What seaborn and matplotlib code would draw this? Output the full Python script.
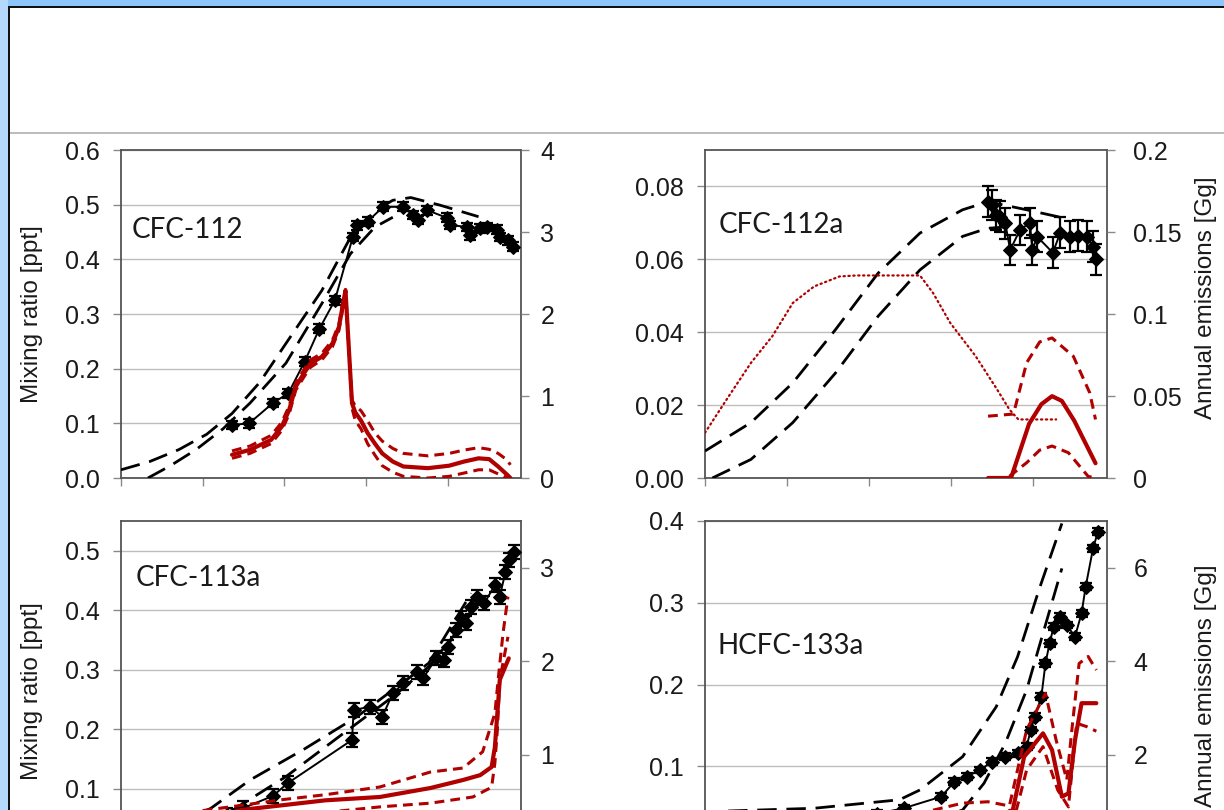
import matplotlib
matplotlib.use("Agg")
import matplotlib.pyplot as plt
import seaborn as sns
from matplotlib.patches import Rectangle

# ---------------- CFC-112 (top left) ----------------
c112_obs_year = [1978.6, 1980.7, 1983.6, 1985.5, 1987.5, 1989.3, 1991.2, 1993.4, 1993.9,
                 1995.2, 1997.1, 1999.5, 2000.8, 2001.4, 2002.5, 2004.9, 2005.3, 2007.4,
                 2007.8, 2009.0, 2009.8, 2011.1, 2011.4, 2012.4, 2013.0]
c112_obs = [0.097, 0.100, 0.137, 0.155, 0.213, 0.273, 0.325, 0.441, 0.462, 0.469, 0.496,
            0.496, 0.481, 0.472, 0.490, 0.476, 0.463, 0.459, 0.444, 0.457, 0.459, 0.454,
            0.441, 0.435, 0.423]
c112_hi_year = [1965.0, 1968.5, 1972.1, 1975.5, 1978.6, 1982.0, 1985.2, 1989.6, 1993.1,
                1996.1, 1998.3, 2000.5, 2004.1, 2008.8]
c112_hi = [0.015, 0.030, 0.052, 0.080, 0.118, 0.175, 0.246, 0.343, 0.440, 0.489, 0.508,
           0.513, 0.499, 0.478]
c112_lo_year = [1968.3, 1971.0, 1974.2, 1977.5, 1980.8, 1985.2, 1989.6, 1993.1, 1996.1,
                1998.3]
c112_lo = [0.0, 0.022, 0.052, 0.090, 0.137, 0.210, 0.319, 0.410, 0.459, 0.477]
e112_year = [1978.6, 1980.8, 1983.4, 1984.7, 1985.6, 1986.4, 1987.4, 1988.2, 1989.6, 1990.9,
             1991.7, 1992.2, 1992.5, 1993.3, 1993.7, 1994.4, 1995.2, 1996.1, 1997.0, 1998.3,
             1999.6, 2002.6, 2005.2, 2007.0, 2008.8, 2010.1, 2011.2, 2012.3, 2012.7]
e112_best = [0.283, 0.344, 0.466, 0.628, 0.83, 1.113, 1.275, 1.397, 1.478, 1.64, 1.842, 2.126,
             2.287, 0.91, 0.80, 0.70, 0.55, 0.42, 0.30, 0.20, 0.14, 0.12, 0.15, 0.20, 0.24,
             0.23, 0.14, 0.04, 0.0]
e112_hi = [0.33, 0.39, 0.52, 0.68, 0.88, 1.16, 1.32, 1.44, 1.52, 1.68, 1.88, 2.16, 2.30, 0.95,
           0.88, 0.82, 0.70, 0.55, 0.45, 0.36, 0.30, 0.27, 0.30, 0.34, 0.37, 0.35, 0.30, 0.22,
           0.16]
e112_lo = [0.24, 0.30, 0.42, 0.58, 0.78, 1.07, 1.23, 1.35, 1.44, 1.60, 1.80, 2.09, 2.27, 0.85,
           0.70, 0.60, 0.42, 0.28, 0.15, 0.07, 0.02, 0.0, 0.02, 0.06, 0.10, 0.10, 0.05, 0.0,
           0.0]

# ---------------- CFC-112a (top right) ----------------
c112a_obs_year = [1999.5, 2000.0, 2000.5, 2001.0, 2001.6, 2002.2, 2003.4, 2004.6, 2004.9,
                  2005.5, 2007.4, 2008.3, 2009.5, 2010.5, 2011.6, 2012.3, 2012.6]
c112a_obs = [0.0758, 0.0749, 0.0722, 0.0717, 0.0699, 0.0626, 0.0681, 0.0700, 0.0626,
             0.0662, 0.0618, 0.0673, 0.0662, 0.0665, 0.0662, 0.0635, 0.0600]
c112a_hi_year = [1965.0, 1970.6, 1975.7, 1980.9, 1986.1, 1991.2, 1996.4, 1999.5, 2004.2,
                 2008.8]
c112a_hi = [0.0074, 0.0152, 0.0261, 0.0407, 0.0562, 0.0672, 0.0736, 0.0758, 0.0736, 0.0713]
c112a_lo_year = [1965.9, 1970.6, 1975.7, 1980.9, 1986.1, 1991.2, 1996.4, 1999.4, 2002.3]
c112a_lo = [0.0, 0.0051, 0.0152, 0.0288, 0.0444, 0.0571, 0.0663, 0.0685, 0.0690]
e112a_prior_year = [1965.0, 1967.9, 1970.6, 1973.2, 1975.7, 1978.3, 1981.4, 1983.5, 1991.2,
                    1992.8, 1994.9, 1998.0, 2000.6, 2002.1, 2003.2, 2007.8]
e112a_prior = [0.0276, 0.0499, 0.0702, 0.0864, 0.1067, 0.1168, 0.1229, 0.1235, 0.1235,
               0.1128, 0.0945, 0.0742, 0.0540, 0.0418, 0.0357, 0.0357]
e112a_best_year = [1999.5, 2002.3, 2003.5, 2004.5, 2006.0, 2007.3, 2008.5, 2010.0, 2011.5,
                   2012.6]
e112a_best = [0.0, 0.0, 0.018, 0.033, 0.045, 0.0499, 0.047, 0.035, 0.020, 0.009]
e112a_hi_year = [1999.5, 2002.6, 2004.2, 2005.8, 2007.3, 2009.9, 2011.9, 2012.6]
e112a_hi = [0.0377, 0.0390, 0.0702, 0.0830, 0.0854, 0.0742, 0.0519, 0.0357]
e112a_lo_year = [2002.1, 2004.2, 2005.8, 2007.3, 2009.3, 2011.7, 2012.6]
e112a_lo = [0.001, 0.0093, 0.0170, 0.0195, 0.0154, 0.001, 0.0]

# ---------------- CFC-113a (bottom left) ----------------
c113a_obs_year = [1978.0, 1979.9, 1983.6, 1985.4, 1993.3, 1993.5, 1995.5, 1997.0, 1998.3,
                  1999.6, 2001.2, 2002.0, 2003.6, 2004.6, 2005.1, 2006.0, 2006.6, 2007.3,
                  2007.9, 2008.6, 2009.5, 2010.8, 2011.4, 2012.1, 2012.5, 2013.2]
c113a_obs = [0.055, 0.0667, 0.0875, 0.1088, 0.1817, 0.232, 0.2377, 0.2208, 0.2602, 0.277,
             0.2965, 0.2854, 0.319, 0.316, 0.3386, 0.3667, 0.3863, 0.378, 0.4058, 0.4227,
             0.4115, 0.4423, 0.4227, 0.4646, 0.4843, 0.498]
c113a_hi_year = [1968.0, 1972.0, 1976.0, 1980.8, 1987.4, 1993.9, 1998.3, 2002.7, 2007.9]
c113a_hi = [0.020, 0.042, 0.0667, 0.1143, 0.166, 0.2208, 0.2658, 0.311, 0.4283]
c113a_lo_year = [1970.0, 1975.0, 1978.7, 1985.2, 1991.7, 1998.3, 2002.7, 2007.0, 2009.5]
c113a_lo = [0.015, 0.040, 0.0639, 0.120, 0.1872, 0.2545, 0.305, 0.378, 0.4227]
e113a_best_year = [1975.0, 1980.0, 1985.0, 1990.0, 1996.7, 2002.9, 2006.9, 2009.0, 2010.4,
                   2010.8, 2011.1, 2011.4, 2012.5]
e113a_best = [0.33, 0.41, 0.46, 0.51, 0.546, 0.642, 0.728, 0.78, 0.867, 1.08, 1.44, 1.80, 2.03]
e113a_hi_year = [1975.0, 1980.0, 1985.0, 1990.0, 1996.7, 2002.9, 2006.9, 2009.3, 2010.8,
                 2011.2, 2011.8, 2012.4]
e113a_hi = [0.40, 0.46, 0.52, 0.57, 0.653, 0.813, 0.856, 1.03, 1.44, 1.80, 2.30, 2.69]
e113a_lo_year = [1975.0, 1980.0, 1985.0, 1990.0, 1996.7, 2002.9, 2008.1, 2010.4, 2010.8,
                 2011.1, 2011.4, 2012.4]
e113a_lo = [0.25, 0.30, 0.34, 0.38, 0.44, 0.48, 0.546, 0.65, 0.91, 1.26, 1.80, 2.26]

# ---------------- HCFC-133a (bottom right) ----------------
c133a_obs_year = [1982.0, 1986.0, 1989.2, 1993.8, 1995.4, 1996.9, 1998.5, 2000.0, 2001.6,
                  2003.1, 2004.2, 2004.7, 2005.2, 2006.0, 2006.5, 2007.0, 2007.5, 2008.3,
                  2009.1, 2010.1, 2010.9, 2011.4, 2012.3, 2012.9]
c133a_obs = [0.035, 0.042, 0.0486, 0.0628, 0.0811, 0.0872, 0.0954, 0.1056, 0.1117, 0.1158,
             0.1239, 0.1443, 0.1606, 0.1851, 0.2259, 0.2504, 0.2707, 0.2829, 0.2727, 0.2585,
             0.2871, 0.3196, 0.3666, 0.3869]
c133a_hi_year = [1965.0, 1967.0, 1978.3, 1988.7, 1991.2, 1996.4, 2000.5, 2003.1, 2005.7,
                 2008.5]
c133a_hi = [0.040, 0.045, 0.0486, 0.059, 0.071, 0.1117, 0.1728, 0.234, 0.3156, 0.397]
c133a_lo_year = [1965.0, 1985.0, 1993.0, 1996.4, 1999.0, 2001.6, 2004.2, 2006.2, 2008.5]
c133a_lo = [0.0, 0.020, 0.035, 0.0465, 0.0791, 0.128, 0.1933, 0.2626, 0.342]
e133a_best_year = [1992.0, 1996.0, 2000.0, 2002.5, 2003.9, 2006.2, 2007.3, 2008.5, 2009.3,
                   2010.1, 2010.9, 2012.7]
e133a_best = [0.60, 0.70, 0.75, 0.80, 1.954, 2.455, 2.098, 1.098, 1.17, 2.31, 3.10, 3.10]
e133a_hi_year = [1992.8, 1996.4, 1999.5, 2002.1, 2004.2, 2006.5, 2007.8, 2009.1, 2009.8,
                 2010.6, 2011.7, 2012.7]
e133a_hi = [0.81, 0.96, 0.99, 0.90, 2.53, 3.31, 2.31, 1.46, 2.67, 3.95, 4.10, 3.81]
e133a_lo_year = [1992.0, 1999.0, 2002.5, 2004.2, 2006.2, 2008.0, 2009.3, 2010.3, 2011.5,
                 2012.7]
e133a_lo = [0.30, 0.40, 0.50, 1.67, 2.17, 1.24, 0.88, 2.67, 2.60, 2.50]

# ---------------- axis ticks / labels ----------------
year_ticks = [1965, 1975, 1985, 1995, 2005]
tl_ticks = [0.0, 0.1, 0.2, 0.3, 0.4, 0.5, 0.6]
tl_labels = ["0.0", "0.1", "0.2", "0.3", "0.4", "0.5", "0.6"]
tl_rticks = [0, 1, 2, 3, 4]
tl_rlabels = ["0", "1", "2", "3", "4"]
tr_ticks = [0.0, 0.02, 0.04, 0.06, 0.08]
tr_labels = ["0.00", "0.02", "0.04", "0.06", "0.08"]
tr_rticks = [0, 0.05, 0.1, 0.15, 0.2]
tr_rlabels = ["0", "0.05", "0.1", "0.15", "0.2"]
bl_ticks = [0.1, 0.2, 0.3, 0.4, 0.5]
bl_labels = ["0.1", "0.2", "0.3", "0.4", "0.5"]
bl_rticks = [1, 2, 3]
bl_rlabels = ["1", "2", "3"]
br_ticks = [0.1, 0.2, 0.3, 0.4]
br_labels = ["0.1", "0.2", "0.3", "0.4"]
br_rticks = [2, 4, 6]
br_rlabels = ["2", "4", "6"]

RED = "#b00000"
INK = "#1a1a1a"
W, H = 1224, 810

sns.set_theme(style="white")
plt.rcParams["font.family"] = ["Liberation Sans", "DejaVu Sans"]

fig = plt.figure(figsize=(W / 100, H / 100), dpi=100)
fig.patch.set_facecolor("white")


def px_axes(x0, x1, ytop, ybot):
    return fig.add_axes([x0 / W, 1 - ybot / H, (x1 - x0) / W, (ybot - ytop) / H])


def style(ax, ax2, ylim, ticks, labels, ylim2, rticks, rlabels, lpad, rpad):
    ax.set_xlim(1965, 2014)
    ax.set_xticks(year_ticks)
    ax.set_xticklabels([])
    ax.set_ylim(*ylim)
    ax.set_yticks(ticks)
    ax.set_yticklabels(labels)
    ax.grid(False)
    ax.yaxis.grid(True, color="#bdbdbd", lw=1.0)
    ax.set_axisbelow(True)
    for s in ax.spines.values():
        s.set_visible(True)
        s.set_color("#555555")
        s.set_linewidth(1.3)
    ax.tick_params(axis="both", direction="out", length=6, width=1, color="#8a8a8a",
                   labelsize=18, labelcolor=INK, left=True, bottom=True)
    ax.tick_params(axis="y", pad=lpad)
    ax2.set_ylim(*ylim2)
    ax2.set_yticks(rticks)
    ax2.set_yticklabels(rlabels)
    ax2.grid(False)
    for s in ax2.spines.values():
        s.set_visible(False)
    ax2.tick_params(axis="y", direction="out", length=6, width=1, color="#8a8a8a",
                    labelsize=18, labelcolor=INK, pad=rpad, right=True)


def observations(ax, yrs, vals, err):
    ax.errorbar(yrs, vals, yerr=err, fmt="none", ecolor="black", elinewidth=1.6,
                capsize=4, capthick=1.6, zorder=4)
    sns.lineplot(x=yrs, y=vals, ax=ax, color="black", lw=1.4, marker="D", markersize=7.5,
                 markeredgecolor="black", estimator=None, sort=False, errorbar=None, zorder=5)


def model(ax, yrs, vals):
    sns.lineplot(x=yrs, y=vals, ax=ax, color="black", lw=2.0, linestyle=(0, (7, 3.5)),
                 estimator=None, sort=False, errorbar=None, zorder=3)


def emission(ax, yrs, vals, kind):
    if kind == "best":
        kw = dict(lw=3.0, linestyle="-")
    elif kind == "bound":
        kw = dict(lw=2.2, linestyle=(0, (3.2, 2.0)))
    else:
        kw = dict(lw=1.6, linestyle=(0, (0.6, 1.6)), dash_capstyle="round")
    sns.lineplot(x=yrs, y=vals, ax=ax, color=RED, estimator=None, sort=False,
                 errorbar=None, **kw)


def label(ax, text, x, y):
    ax.text(x, y, text, transform=ax.transAxes, fontsize=20, family=["Lato", "DejaVu Sans"],
            color=INK, va="center", ha="left", zorder=10)


# ---- top left: CFC-112
ax = px_axes(121, 521, 150, 478)
ax2 = ax.twinx()
style(ax, ax2, (0, 0.6), tl_ticks, tl_labels, (0, 4), tl_rticks, tl_rlabels, 9, 8)
model(ax, c112_hi_year, c112_hi)
model(ax, c112_lo_year, c112_lo)
observations(ax, c112_obs_year, c112_obs, 0.008)
emission(ax2, e112_year, e112_hi, "bound")
emission(ax2, e112_year, e112_lo, "bound")
emission(ax2, e112_year, e112_best, "best")
label(ax, "CFC-112", 0.027, 0.756)
ax.set_ylabel("Mixing ratio [ppt]", fontsize=17.5, color=INK)
ax.yaxis.set_label_coords(-0.195, 0.5)
ax2.set_ylabel("")

# ---- top right: CFC-112a
ax = px_axes(705, 1107, 150, 478)
ax2 = ax.twinx()
style(ax, ax2, (0, 0.09), tr_ticks, tr_labels, (0, 0.2), tr_rticks, tr_rlabels, 9, 13)
model(ax, c112a_hi_year, c112a_hi)
model(ax, c112a_lo_year, c112a_lo)
observations(ax, c112a_obs_year, c112a_obs, 0.0042)
emission(ax2, e112a_prior_year, e112a_prior, "prior")
emission(ax2, e112a_hi_year, e112a_hi, "bound")
emission(ax2, e112a_lo_year, e112a_lo, "bound")
emission(ax2, e112a_best_year, e112a_best, "best")
label(ax, "CFC-112a", 0.035, 0.771)
ax.set_ylabel("")
ax2.set_ylabel("Annual emissions [Gg]", fontsize=17.5, color=INK)
ax2.yaxis.set_label_coords(1.219, 0.55)

# ---- bottom left: CFC-113a
ax = px_axes(121, 521, 521, 848)
ax2 = ax.twinx()
style(ax, ax2, (0, 0.55), bl_ticks, bl_labels, (0, 3.5), bl_rticks, bl_rlabels, 9, 8)
model(ax, c113a_hi_year, c113a_hi)
model(ax, c113a_lo_year, c113a_lo)
observations(ax, c113a_obs_year, c113a_obs, 0.012)
emission(ax2, e113a_hi_year, e113a_hi, "bound")
emission(ax2, e113a_lo_year, e113a_lo, "bound")
emission(ax2, e113a_best_year, e113a_best, "best")
label(ax, "CFC-113a", 0.0375, 0.826)
ax.set_ylabel("Mixing ratio [ppt]", fontsize=17.5, color=INK)
ax.yaxis.set_label_coords(-0.195, 0.48)
ax2.set_ylabel("")

# ---- bottom right: HCFC-133a
ax = px_axes(705, 1107, 521, 848)
ax2 = ax.twinx()
style(ax, ax2, (0, 0.4), br_ticks, br_labels, (0, 7), br_rticks, br_rlabels, 9, 13)
model(ax, c133a_hi_year, c133a_hi)
model(ax, c133a_lo_year, c133a_lo)
observations(ax, c133a_obs_year, c133a_obs, 0.004)
emission(ax2, e133a_hi_year, e133a_hi, "bound")
emission(ax2, e133a_lo_year, e133a_lo, "bound")
emission(ax2, e133a_best_year, e133a_best, "best")
label(ax, "HCFC-133a", 0.03, 0.618)
ax.set_ylabel("")
ax2.set_ylabel("Annual emissions [Gg]", fontsize=17.5, color=INK)
ax2.yaxis.set_label_coords(1.219, 0.495)


# ---- slide frame
def frame_rect(x0, y0, x1, y1, color):
    fig.add_artist(Rectangle((x0 / W, 1 - y1 / H), (x1 - x0) / W, (y1 - y0) / H,
                             transform=fig.transFigure, facecolor=color, edgecolor="none",
                             zorder=20))


frame_rect(0, 0, W, 6, "#8cc6fb")
frame_rect(0, 0, 8, H, "#b5d9fb")
frame_rect(8, 6, W, 8, "#111111")
frame_rect(8, 6, 10, H, "#111111")
frame_rect(10, 132, W, 134, "#bdbdbd")

fig.savefig("out.png", dpi=100)
